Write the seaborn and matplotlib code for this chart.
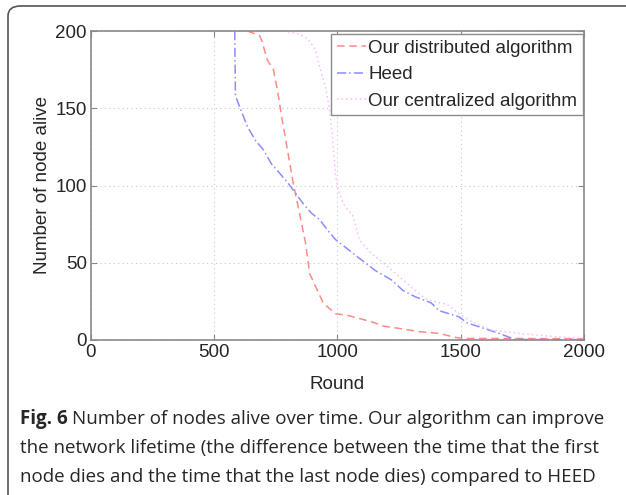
import numpy as np
import pandas as pd
import matplotlib
matplotlib.use("Agg")
import matplotlib.pyplot as plt
import seaborn as sns
from matplotlib.patches import FancyBboxPatch

# ---- data ----
dist_round = [635, 684, 692, 716, 740, 756, 773, 797, 821, 846, 870, 887, 910, 942, 991, 1040, 1088, 1153, 1185, 1250, 1331, 1412, 1477, 1509, 1700, 2000]
dist_alive = [200, 197, 194, 181, 175, 162, 145, 123, 101, 82, 63, 43, 35, 24, 17, 16, 14, 11, 9, 7.5, 5.4, 4.3, 1.7, 1, 1, 0.8]

heed_round = [583, 586, 603, 635, 668, 700, 732, 765, 797, 830, 862, 895, 927, 960, 992, 1040, 1088, 1153, 1218, 1266, 1315, 1380, 1412, 1493, 1526, 1574, 1655, 1720, 2000]
heed_alive = [200, 158, 151, 138, 129, 123, 114, 108, 102, 95, 88, 82, 78, 71, 65, 59, 53, 45, 39, 32, 28, 24, 19, 15, 11, 8.6, 4.3, 0.4, 0]

cent_round = [781, 846, 878, 911, 927, 951, 968, 984, 992, 1008, 1024, 1064, 1088, 1137, 1185, 1250, 1315, 1364, 1445, 1493, 1542, 1623, 1736, 1898, 1995]
cent_alive = [200, 198, 195, 188, 177, 164, 149, 123, 106, 95, 88, 80, 65, 56, 50, 41, 32, 26, 23, 17, 12, 6.5, 4.3, 2, 1]

series_names = ["Our distributed algorithm", "Heed", "Our centralized algorithm"]
x_ticks = [0, 500, 1000, 1500, 2000]
y_ticks = [0, 50, 100, 150, 200]

df = pd.concat([
    pd.DataFrame({"Round": dist_round, "Alive": dist_alive, "Series": series_names[0]}),
    pd.DataFrame({"Round": heed_round, "Alive": heed_alive, "Series": series_names[1]}),
    pd.DataFrame({"Round": cent_round, "Alive": cent_alive, "Series": series_names[2]}),
], ignore_index=True)

sns.set_style("white")
plt.rcParams["font.family"] = ["Liberation Sans", "DejaVu Sans"]

W, H = 626, 495
fig = plt.figure(figsize=(W / 100, H / 100), dpi=100)
ax = fig.add_axes([91 / W, (H - 340) / H, 493 / W, 309 / H])

palette = {series_names[0]: "#ff8a8a", series_names[1]: "#8c8cff", series_names[2]: "#ffb8ff"}
dashes = {series_names[0]: (5, 3), series_names[1]: (6, 2, 1, 2), series_names[2]: (1, 2)}
sns.lineplot(data=df, x="Round", y="Alive", hue="Series", style="Series",
             palette=palette, dashes=dashes, sort=False, estimator=None,
             linewidth=1.1, ax=ax)

fs_ax = 13.5
ax.set_xlim(0, 2000)
ax.set_ylim(0, 200)
ax.set_xticks(x_ticks)
ax.set_yticks(y_ticks)
ax.set_xticklabels([str(t) for t in x_ticks], fontsize=fs_ax)
ax.set_yticklabels([str(t) for t in y_ticks], fontsize=fs_ax)
ax.tick_params(direction="in", length=4, color="#888888", top=True, right=True,
               left=True, bottom=True, pad=3)
ax.grid(True, linestyle=(0, (1, 3)), color="#c8c8c8", linewidth=0.8)
for s in ax.spines.values():
    s.set_color("#8a8a8a")
    s.set_linewidth(1.2)
ax.set_xlabel("Round", fontsize=fs_ax, labelpad=11)
ax.set_ylabel("Number of node alive", fontsize=fs_ax, labelpad=3)

leg = ax.legend(loc="upper right", bbox_to_anchor=(0.998, 0.99), fontsize=fs_ax,
                frameon=True, fancybox=False, framealpha=1, edgecolor="#8a8a8a",
                handlelength=1.55, handletextpad=0.15, borderpad=0.3, labelspacing=0.5,
                borderaxespad=0)
leg.get_frame().set_linewidth(1.0)

# rounded frame around figure + caption
frame = FancyBboxPatch((8 / W, -30 / H), (W + 40) / W, (H - 6 + 30) / H,
                       boxstyle="round,pad=0,rounding_size=0.02",
                       transform=fig.transFigure, fill=False, edgecolor="#555555",
                       linewidth=1.2, clip_on=False)
fig.patches.append(frame)

cap_font = ["Open Sans", "DejaVu Sans"]
fs = 13.5
t1 = fig.text(20 / W, 1 - 419 / H, "Fig. 6", fontsize=fs, fontweight="bold",
              family=cap_font, va="center", ha="left")
fig.canvas.draw()
bb = t1.get_window_extent()
fig.text((bb.x1 + 4) / W, 1 - 419 / H,
         "Number of nodes alive over time. Our algorithm can improve",
         fontsize=fs, family=cap_font, va="center", ha="left")
fig.text(20 / W, 1 - 448 / H,
         "the network lifetime (the difference between the time that the first",
         fontsize=fs, family=cap_font, va="center", ha="left")
fig.text(20 / W, 1 - 477 / H,
         "node dies and the time that the last node dies) compared to HEED",
         fontsize=fs, family=cap_font, va="center", ha="left")

fig.savefig("out.png", dpi=100)
